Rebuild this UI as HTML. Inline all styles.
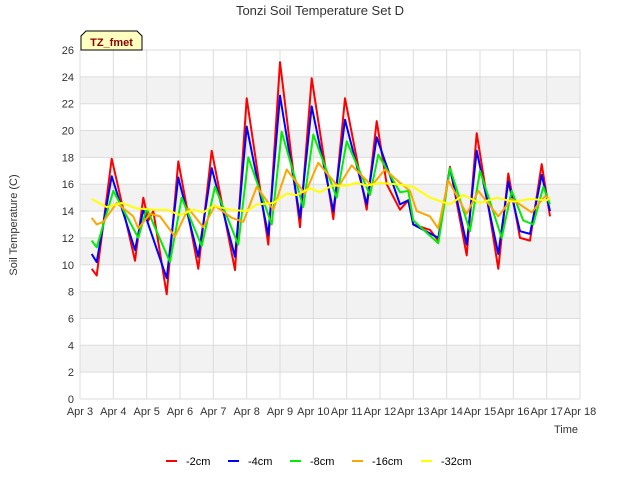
<!DOCTYPE html>
<html><head><meta charset="utf-8"><style>
body{margin:0;background:#fff;font-family:"Liberation Sans",sans-serif;}
svg text{font-family:"Liberation Sans",sans-serif;}
</style></head><body>
<svg id="chart" width="640" height="480" xmlns="http://www.w3.org/2000/svg">
<rect width="640" height="480" fill="#fff"/>
<text x="320" y="15" text-anchor="middle" font-size="13" fill="#333">Tonzi Soil Temperature Set D</text>
<g id="grid"></g>
<g id="series"></g>
<text transform="translate(17,225) rotate(-90)" text-anchor="middle" font-size="11" fill="#333">Soil Temperature (C)</text>
<text x="578" y="433" text-anchor="end" font-size="11" fill="#333">Time</text>
<g>
<path d="M81,50 L81,36 L86,31 L137,31 L142,36 L142,50 Z" fill="#ffffc0" stroke="#000" stroke-width="1"/>
<text x="111.5" y="46" text-anchor="middle" font-size="11" font-weight="bold" fill="#8b0000">TZ_fmet</text>
</g>
<g id="legend"></g>
</svg>
<script>
const xTicks=["Apr 3","Apr 4","Apr 5","Apr 6","Apr 7","Apr 8","Apr 9","Apr 10","Apr 11","Apr 12","Apr 13","Apr 14","Apr 15","Apr 16","Apr 17","Apr 18"];
const yTicks=[0,2,4,6,8,10,12,14,16,18,20,22,24,26];
const seriesNames=["-2cm","-4cm","-8cm","-16cm","-32cm"];
const seriesColors=["#ff0000","#0000ff","#00ee00","#ffa500","#ffff00"];
const t2=[3.35,3.5,3.95,4.65,4.9,5.05,5.2,5.6,5.95,6.55,6.95,7.65,8.0,8.65,9.0,9.6,9.95,10.6,10.95,11.6,11.9,12.2,12.6,12.85,13.0,13.5,13.75,14.1,14.6,14.9,15.55,15.85,16.2,16.5,16.85,17.1];
const v2=[9.7,9.2,17.9,10.3,15.0,13.3,14.0,7.8,17.7,9.7,18.5,9.6,22.4,11.5,25.1,12.8,23.9,13.4,22.4,14.1,20.7,16.0,14.1,14.8,13.0,12.6,11.8,17.3,10.7,19.8,9.7,16.8,12.0,11.8,17.5,13.6];
const t4=[3.35,3.5,3.95,4.65,4.9,5.6,5.95,6.55,6.95,7.65,8.0,8.65,9.0,9.6,9.95,10.6,10.95,11.6,11.9,12.6,12.85,13.0,13.75,14.1,14.6,14.9,15.55,15.85,16.2,16.5,16.85,17.1];
const v4=[10.8,10.2,16.6,11.1,14.1,9.0,16.5,10.6,17.2,10.6,20.3,12.2,22.6,13.5,21.8,14.0,20.8,14.5,19.5,14.5,14.8,13.0,12.0,17.2,11.5,18.5,10.8,16.2,12.5,12.3,16.7,14.0];
const t8=[3.35,3.5,4.0,4.75,5.0,5.7,6.05,6.65,7.05,7.75,8.05,8.75,9.05,9.7,10.0,10.7,11.0,11.7,11.95,12.6,12.85,13.0,13.75,14.1,14.7,15.0,15.65,15.95,16.3,16.6,16.9,17.1];
const v8=[11.8,11.3,15.5,12.0,14.2,10.2,15.0,11.4,15.8,11.5,18.0,13.0,19.9,14.3,19.7,15.0,19.2,15.2,18.2,15.4,15.5,13.3,11.6,17.2,12.5,17.0,12.0,15.5,13.3,13.0,15.8,14.5];
const t16=[3.35,3.5,3.7,4.1,4.6,4.75,5.1,5.4,5.85,6.25,6.7,7.05,7.55,7.9,8.3,8.8,9.2,9.75,10.15,10.75,11.15,11.75,12.15,12.6,12.9,13.1,13.5,13.75,14.05,14.6,14.95,15.55,15.95,16.55,16.95,17.1];
const v16=[13.5,13.0,13.2,14.6,13.6,12.7,13.8,13.6,12.1,14.2,12.8,14.4,13.5,13.2,15.8,14.1,17.1,15.3,17.6,15.8,17.4,15.9,17.1,16.1,15.5,14.0,13.6,12.7,16.3,13.8,15.5,13.6,14.9,13.9,15.1,14.9];
const t32=[3.35,3.8,4.25,4.7,5.2,5.6,6.0,6.4,6.7,7.0,7.5,8.0,8.3,8.8,9.2,9.5,9.9,10.2,10.55,11.0,11.3,11.6,12.0,12.5,13.0,13.5,14.1,14.5,15.0,15.5,16.0,16.5,17.0,17.1];
const v32=[14.9,14.3,14.6,14.2,14.1,14.1,13.7,14.1,13.9,14.4,14.1,14.0,14.5,14.6,15.3,15.2,15.7,15.4,15.9,15.9,16.1,15.9,16.1,16.0,15.8,15.0,14.5,15.2,14.6,15.0,14.7,14.9,14.8,15.0];
const seriesT=[t2,t4,t8,t16,t32];
const seriesV=[v2,v4,v8,v16,v32];

const X0=80,X1=580,Y0=399,Y1=50;
const xScale=d=>X0+(d-3)*(X1-X0)/15;
const yScale=v=>Y0-v*(Y0-Y1)/26;
const NS="http://www.w3.org/2000/svg";
function mk(tag,attrs,parent){const e=document.createElementNS(NS,tag);for(const k in attrs)e.setAttribute(k,attrs[k]);parent.appendChild(e);return e;}
const grid=document.getElementById('grid');
for(let i=0;i<yTicks.length-1;i++){
  if(i%2===1){const r=mk('rect',{x:X0,y:yScale(yTicks[i+1]),width:X1-X0,height:yScale(yTicks[i])-yScale(yTicks[i+1]),fill:'#f2f2f2'},grid);
  
  }
}
yTicks.forEach(v=>{
  const l=mk('line',{x1:X0,x2:X1,y1:yScale(v),y2:yScale(v),stroke:'#dcdcdc','stroke-width':1},grid);
  
  
  const t=mk('text',{x:X0-6,y:yScale(v)+4,'text-anchor':'end','font-size':11,fill:'#333'},grid);
  
  
  t.textContent=v;
});
xTicks.forEach((s,i)=>{
  const x=xScale(3+i);
  const l=mk('line',{x1:x,x2:x,y1:Y1,y2:Y0,stroke:'#dcdcdc','stroke-width':1},grid);
  
  
  const t=mk('text',{x:x,y:Y0+16,'text-anchor':'middle','font-size':11,fill:'#333'},grid);
  
  
  t.textContent=s;
});
const sg=document.getElementById('series');
seriesNames.forEach((n,i)=>{
  const pts=seriesT[i].map((d,j)=>xScale(d).toFixed(1)+','+yScale(seriesV[i][j]).toFixed(1)).join(' ');
  const p=mk('polyline',{points:pts,fill:'none',stroke:seriesColors[i],'stroke-width':2,'stroke-linejoin':'round'},sg);
  
  
});
const lg=document.getElementById('legend');
const lx=[166,228,290,352,421];
seriesNames.forEach((n,i)=>{
  const l=mk('line',{x1:lx[i],x2:lx[i]+11,y1:461,y2:461,stroke:seriesColors[i],'stroke-width':2},lg);
  
  
  const t=mk('text',{x:lx[i]+20,y:465,'font-size':11,fill:'#000'},lg);
  
  
  t.textContent=n;
});
</script>
</body></html>
